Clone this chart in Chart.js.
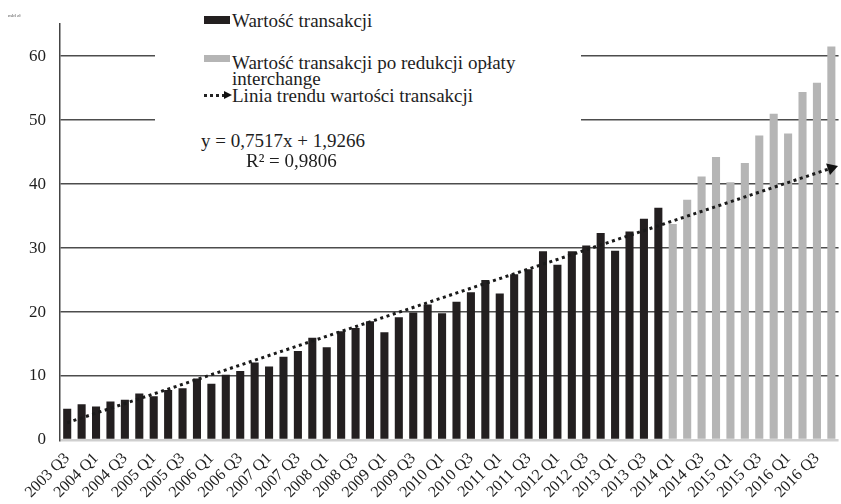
<!DOCTYPE html>
<html>
<head>
<meta charset="utf-8">
<script src="https://cdn.jsdelivr.net/npm/chart.js@4/dist/chart.umd.min.js"></script>
<style>
  body { margin: 0; overflow: hidden; background: #fff; }
  #wrap { position: relative; width: 846px; height: 504px; }
  .txt { position: absolute; font-family: 'Liberation Serif', serif; font-size: 19px; line-height: 18px; color: #1e1e1e; white-space: nowrap; }
  #legendBox { position: absolute; left: 155px; top: 0; width: 426px; height: 170px; background: #fff; }
  .swatch { position: absolute; }
</style>
</head>
<body>
<div id="wrap">
  <canvas id="chart" width="846" height="504"></canvas>
  <div class="txt" style="left:8px;top:13px;font-size:5px;line-height:5px;color:#555">mld zł</div>
  <div id="legendBox"></div>
  <div class="swatch" style="left:204px;top:16px;width:26px;height:8px;background:#231f20"></div>
  <div class="txt" style="left:232px;top:12px">Wartość transakcji</div>
  <div class="swatch" style="left:204px;top:55px;width:26px;height:7px;background:#b5b5b5"></div>
  <div class="txt" style="left:232px;top:54px">Wartość transakcji po redukcji opłaty</div>
  <div class="txt" style="left:232px;top:70px">interchange</div>
  <div class="swatch" style="left:204px;top:94px;width:21px;height:0;border-top:3px dotted #222"></div>
  <div class="swatch" style="left:224px;top:91px;width:0;height:0;border-top:4.5px solid transparent;border-bottom:4.5px solid transparent;border-left:8px solid #111"></div>
  <div class="txt" style="left:232px;top:87px">Linia trendu wartości transakcji</div>
  <div class="txt" style="left:201px;top:132px">y = 0,7517x + 1,9266</div>
  <div class="txt" style="left:246px;top:152px">R² = 0,9806</div>
</div>
<script>
// kwartały 2003 Q3 - 2016 Q4
const quarters = [
  '2003 Q3','2003 Q4',
  '2004 Q1','2004 Q2','2004 Q3','2004 Q4',
  '2005 Q1','2005 Q2','2005 Q3','2005 Q4',
  '2006 Q1','2006 Q2','2006 Q3','2006 Q4',
  '2007 Q1','2007 Q2','2007 Q3','2007 Q4',
  '2008 Q1','2008 Q2','2008 Q3','2008 Q4',
  '2009 Q1','2009 Q2','2009 Q3','2009 Q4',
  '2010 Q1','2010 Q2','2010 Q3','2010 Q4',
  '2011 Q1','2011 Q2','2011 Q3','2011 Q4',
  '2012 Q1','2012 Q2','2012 Q3','2012 Q4',
  '2013 Q1','2013 Q2','2013 Q3','2013 Q4',
  '2014 Q1','2014 Q2','2014 Q3','2014 Q4',
  '2015 Q1','2015 Q2','2015 Q3','2015 Q4',
  '2016 Q1','2016 Q2','2016 Q3','2016 Q4'
];

// Wartość transakcji (2003 Q3 - 2013 Q4)
const transValue = [4.9, 5.6, 5.25, 6.0, 6.3, 7.25, 6.85, 7.8, 8.1, 9.6,
  8.8, 10.2, 10.8, 12.1, 11.5, 13.0, 13.9, 16.0, 14.5, 17.0,
  17.5, 18.55, 16.85, 19.2, 19.95, 21.2, 19.8, 21.6, 23.1, 25.0,
  22.9, 25.9, 26.7, 29.5, 27.4, 29.5, 30.4, 32.35, 29.6, 32.6,
  34.6, 36.3];

// Wartość transakcji po redukcji opłaty interchange (2014 Q1 - 2016 Q4)
const reducedValue = [33.75, 37.55, 41.2, 44.25, 40.3, 43.3, 47.6, 51.0, 47.9, 54.4, 55.85, 61.5];

// linia trendu: początek i koniec
const trendStart = 2.7;
const trendEnd = 42.5;

const yTicks = [0, 10, 20, 30, 40, 50, 60];

const nulls = n => Array(n).fill(null);
const blackData = transValue.concat(nulls(quarters.length - transValue.length));
const grayData = nulls(quarters.length - reducedValue.length).concat(reducedValue);
const trendData = [trendStart].concat(nulls(quarters.length - 2), [trendEnd]);
const lastIdx = quarters.length - 1;

const serif = 'Liberation Serif';

new Chart(document.getElementById('chart'), {
  data: {
    labels: quarters,
    datasets: [
      {
        type: 'line',
        label: 'Linia trendu wartości transakcji',
        data: trendData,
        spanGaps: true,
        borderColor: '#1a1a1a',
        borderWidth: 3,
        borderDash: [3, 3.6],
        pointStyle: 'triangle',
        pointRotation: 71.5,
        pointRadius: ctx => ctx.dataIndex === lastIdx ? 7 : 0,
        pointBackgroundColor: '#111',
        pointBorderWidth: 0,
        order: 0
      },
      {
        type: 'bar',
        label: 'Wartość transakcji',
        data: blackData,
        backgroundColor: '#231f20',
        grouped: false,
        barPercentage: 0.56,
        categoryPercentage: 1,
        order: 1
      },
      {
        type: 'bar',
        label: 'Wartość transakcji po redukcji opłaty interchange',
        data: grayData,
        backgroundColor: '#b5b5b5',
        grouped: false,
        barPercentage: 0.56,
        categoryPercentage: 1,
        order: 1
      }
    ]
  },
  options: {
    responsive: false,
    animation: false,
    layout: { padding: { top: 20, left: 0, right: 0, bottom: 0 } },
    plugins: { legend: { display: false }, tooltip: { enabled: false } },
    scales: {
      x: {
        offset: true,
        grid: { display: false },
        border: { display: false },
        afterFit: s => { s.height = 64; },
        ticks: {
          autoSkip: false,
          maxRotation: 45,
          minRotation: 45,
          padding: 1,
          color: '#1e1e1e',
          font: { family: serif, size: 16 },
          callback: (v, i) => i % 2 === 0 ? quarters[i] : ''
        }
      },
      y: {
        min: 0,
        max: 65,
        afterFit: s => { s.width = 60; },
        afterBuildTicks: s => { s.ticks = yTicks.map(v => ({ value: v })); },
        border: { color: '#444', width: 1.5 },
        grid: {
          drawTicks: false,
          color: c => c.tick && c.tick.value === 0 ? '#cfcfcf' : '#4d4d4d',
          lineWidth: c => c.tick && c.tick.value === 0 ? 2.5 : 1.5
        },
        ticks: {
          padding: 14,
          color: '#1e1e1e',
          font: { family: serif, size: 17 }
        }
      }
    }
  }
});
</script>
</body>
</html>
